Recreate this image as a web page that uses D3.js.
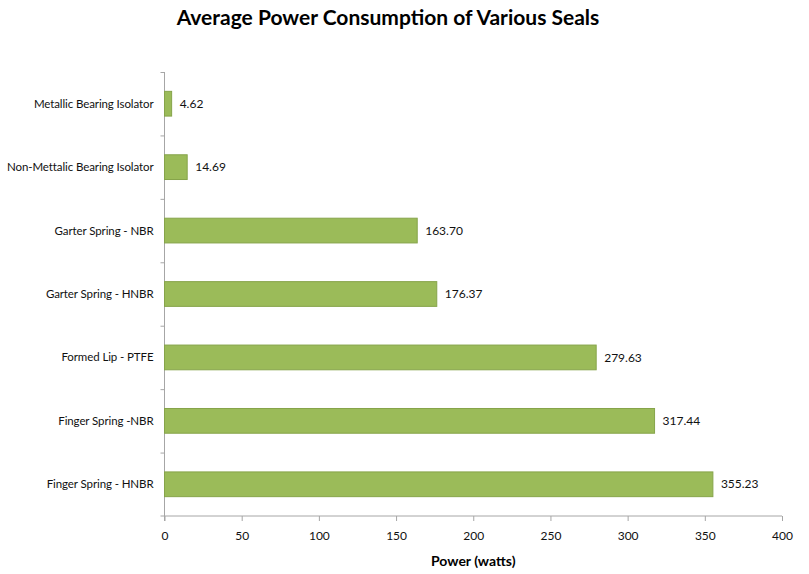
<!DOCTYPE html>
<html>
<head>
<meta charset="utf-8">
<script src="https://cdn.jsdelivr.net/npm/d3@7"></script>
<style>
  body { margin: 0; background: #fff; }
  text { font-family: Lato, "Open Sans", sans-serif; }
</style>
</head>
<body>
<div id="myPlot"></div>
<script>
// Data
const seals = [
  "Metallic Bearing Isolator",
  "Non-Mettalic Bearing Isolator",
  "Garter Spring - NBR",
  "Garter Spring - HNBR",
  "Formed Lip - PTFE",
  "Finger Spring -NBR",
  "Finger Spring - HNBR"
];
const power = [4.62, 14.69, 163.70, 176.37, 279.63, 317.44, 355.23];
const xTicks = [0, 50, 100, 150, 200, 250, 300, 350, 400];

const title = "Average Power Consumption of Various Seals";
const xTitle = "Power (watts)";

window.onload = () => {
  drawChart();
};

function drawChart() {
  const width = 809;
  const height = 574;
  const left = 164.5, right = 782, top = 72, bottom = 516;
  const axisColor = "#a6a6a6";

  const svg = d3.select("#myPlot")
    .append("svg")
    .attr("width", width)
    .attr("height", height);

  // X Axis
  const x = d3.scaleLinear()
    .domain([0, 400])
    .range([left, right]);

  // Y Axis (categories)
  const y = d3.scaleBand()
    .domain(seals)
    .range([top, bottom])
    .paddingInner(0.61)
    .paddingOuter(0.305);

  const yBounds = d3.scaleLinear()
    .domain([0, seals.length])
    .range([top, bottom]);

  const xAxis = svg.append("g")
    .attr("transform", "translate(0," + bottom + ")")
    .call(d3.axisBottom(x).tickValues(xTicks).tickSize(5).tickSizeOuter(0).tickPadding(10));
  xAxis.select(".domain").attr("stroke", axisColor).attr("d", "M" + (left - 4) + ",0H" + right);
  xAxis.selectAll(".tick line").attr("stroke", axisColor);
  xAxis.selectAll(".tick text")
    .attr("fill", "#111")
    .style("font-size", "12px");

  const yAxis = svg.append("g")
    .attr("transform", "translate(" + left + ",0)")
    .call(d3.axisLeft(yBounds).tickValues(d3.range(0, seals.length)).tickSize(4).tickSizeOuter(0).tickFormat(""));
  yAxis.select(".domain").attr("stroke", axisColor).attr("d", "M0," + top + "V" + (bottom + 5));
  yAxis.selectAll(".tick line").attr("stroke", axisColor);

  // Category labels
  svg.append("g")
    .selectAll("text")
    .data(seals).enter()
    .append("text")
    .attr("x", left - 11)
    .attr("y", d => y(d) + y.bandwidth() / 2)
    .attr("dy", "0.35em")
    .attr("text-anchor", "end")
    .attr("fill", "#111")
    .style("font-size", "11.5px")
    .style("letter-spacing", "-0.1px")
    .text(d => d);

  // Bars
  svg.append("g")
    .selectAll("rect")
    .data(power).enter()
    .append("rect")
    .attr("x", x(0))
    .attr("y", (d, i) => y(seals[i]))
    .attr("width", d => x(d) - x(0))
    .attr("height", y.bandwidth())
    .attr("fill", "#9bbb59")
    .attr("stroke", "#86a44a")
    .attr("stroke-width", 1);

  // Value labels
  svg.append("g")
    .selectAll("text")
    .data(power).enter()
    .append("text")
    .attr("x", d => x(d) + 8)
    .attr("y", (d, i) => y(seals[i]) + y.bandwidth() / 2)
    .attr("dy", "0.35em")
    .attr("fill", "#111")
    .style("font-size", "12px")
    .text(d => d3.format(".2f")(d));

  // Titles
  svg.append("text")
    .attr("x", 388)
    .attr("y", 25)
    .attr("text-anchor", "middle")
    .style("font-size", "21px")
    .style("font-weight", "bold")
    .attr("fill", "#000")
    .text(title);

  svg.append("text")
    .attr("x", (left + right) / 2)
    .attr("y", 566)
    .attr("text-anchor", "middle")
    .style("font-size", "14px")
    .style("font-weight", "bold")
    .attr("fill", "#000")
    .text(xTitle);
}
</script>
</body>
</html>
